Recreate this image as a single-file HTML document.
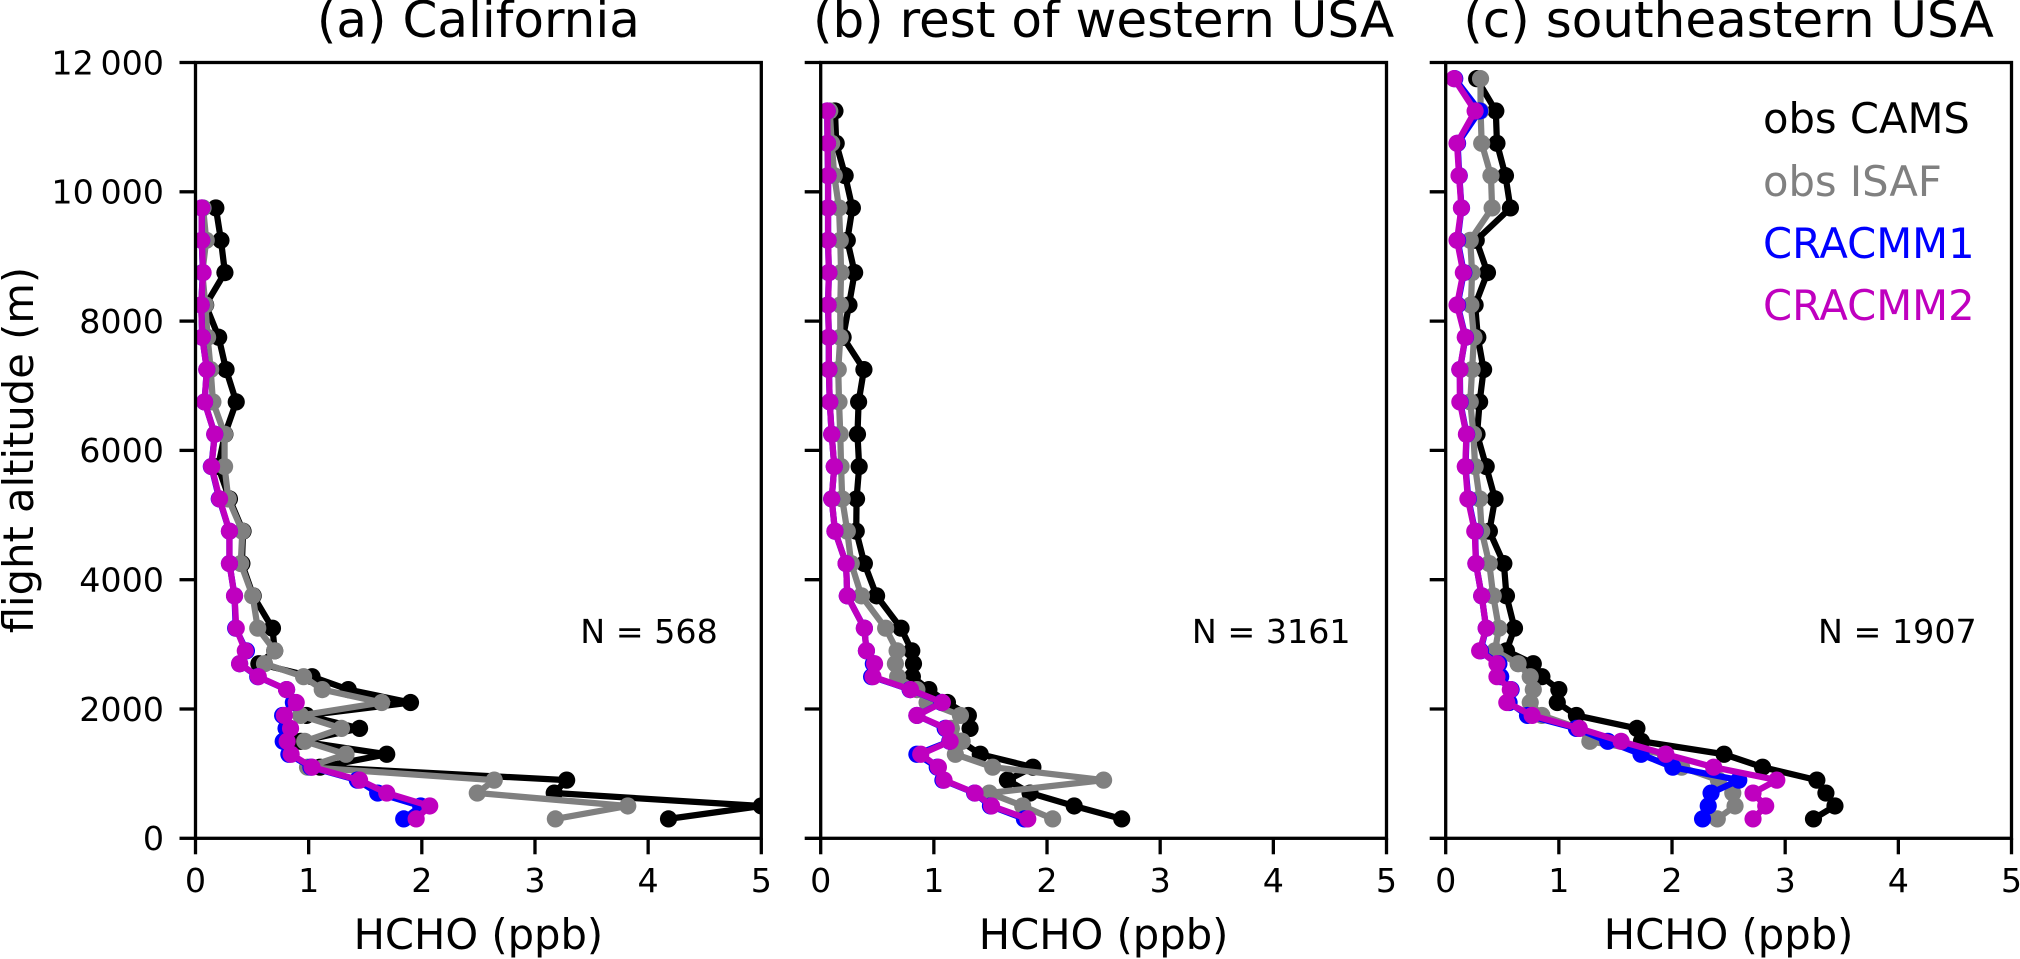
<!DOCTYPE html>
<html lang="en">
<head>
<meta charset="utf-8">
<title>HCHO vertical profiles</title>
<style>
html,body{margin:0;padding:0;background:#fff;}
svg{display:block;}
text{font-family:"DejaVu Sans","Liberation Sans",sans-serif;fill:#000;}
</style>
</head>
<body>
<svg id="chart" xmlns="http://www.w3.org/2000/svg" width="2020" height="959" viewBox="0 0 2020 959"></svg>
<script>
const altitudes = [300,500,700,900,1100,1300,1500,1700,1900,2100,2300,2500,2700,2900,3250,3750,4250,4750,5250,5750,6250,6750,7250,7750,8250,8750,9250,9750,10250,10750,11250,11750];
const xTickLabels = ["0","1","2","3","4","5"];
const xTickValues = [0,1,2,3,4,5];
const yTickValues = [0,2000,4000,6000,8000,10000,12000];
const yTickLabels = ["0","2000","4000","6000","8000","10\u2009000","12\u2009000"];
const panelTitles = ["(a) California","(b) rest of western USA","(c) southeastern USA"];
const sampleCounts = ["N = 568","N = 3161","N = 1907"];
const seriesNames = ["obs CAMS","obs ISAF","CRACMM1","CRACMM2"];

const caCams = [4.18,5.0,3.17,3.28,1.1,1.69,0.93,1.45,0.98,1.9,1.35,1.03,0.56,0.7,0.68,0.51,0.41,0.42,0.3,0.2,0.26,0.36,0.27,0.205,0.09,0.26,0.225,0.18];
const caIsaf = [3.18,3.82,2.49,2.64,0.99,1.33,0.965,1.29,0.93,1.645,1.12,0.955,0.61,0.7,0.55,0.505,0.4,0.414,0.29,0.257,0.257,0.154,0.134,0.107,0.087,0.06,0.095,0.067];
const caCracmm1 = [1.84,1.99,1.61,1.43,1.02,0.825,0.775,0.8,0.77,0.865,0.805,0.55,0.39,0.45,0.355,0.345,0.3,0.3,0.21,0.14,0.17,0.08,0.1,0.06,0.05,0.065,0.055,0.055];
const caCracmm2 = [1.95,2.07,1.69,1.45,1.03,0.845,0.81,0.84,0.785,0.89,0.805,0.555,0.39,0.44,0.36,0.345,0.3,0.3,0.213,0.142,0.17,0.08,0.1,0.06,0.05,0.067,0.055,0.055];

const westCams = [2.66,2.24,1.85,1.65,1.875,1.41,1.24,1.32,1.305,1.12,0.956,0.81,0.82,0.805,0.71,0.494,0.386,0.314,0.317,0.34,0.325,0.335,0.382,0.198,0.25,0.3,0.235,0.28,0.216,0.137,0.126];
const westIsaf = [2.05,1.785,1.49,2.5,1.52,1.19,1.25,1.155,1.235,0.94,0.85,0.68,0.66,0.675,0.574,0.36,0.27,0.235,0.19,0.18,0.173,0.162,0.155,0.173,0.173,0.18,0.173,0.162,0.12,0.097,0.08];
const westCracmm1 = [1.8,1.5,1.36,1.08,1.03,0.85,1.14,1.1,0.85,1.07,0.79,0.45,0.465,0.404,0.386,0.235,0.224,0.126,0.097,0.12,0.097,0.08,0.072,0.072,0.065,0.072,0.065,0.065,0.065,0.06,0.058];
const westCracmm2 = [1.83,1.51,1.364,1.09,1.04,0.884,1.144,1.11,0.85,1.075,0.794,0.462,0.476,0.404,0.386,0.235,0.224,0.126,0.097,0.12,0.097,0.08,0.072,0.072,0.065,0.072,0.065,0.065,0.065,0.06,0.058];

const seCams = [3.25,3.44,3.36,3.28,2.8,2.46,1.73,1.69,1.155,0.986,1.0,0.85,0.774,0.537,0.608,0.537,0.514,0.386,0.436,0.358,0.277,0.3,0.335,0.284,0.26,0.369,0.27,0.572,0.528,0.453,0.443,0.274];
const seIsaf = [2.4,2.557,2.537,2.41,2.085,1.94,1.274,1.18,0.85,0.747,0.774,0.747,0.64,0.436,0.47,0.42,0.385,0.318,0.3,0.26,0.245,0.217,0.233,0.25,0.223,0.233,0.217,0.41,0.4,0.318,0.308,0.308];
const seCracmm1 = [2.27,2.32,2.345,2.59,2.007,1.726,1.432,1.155,0.723,0.56,0.578,0.486,0.47,0.307,0.358,0.318,0.267,0.26,0.2,0.175,0.185,0.128,0.125,0.175,0.105,0.16,0.105,0.14,0.12,0.105,0.3,0.08];
const seCracmm2 = [2.716,2.828,2.716,2.926,2.368,1.946,1.55,1.18,0.764,0.54,0.571,0.453,0.453,0.3,0.358,0.318,0.267,0.257,0.196,0.173,0.183,0.125,0.125,0.173,0.1,0.156,0.1,0.139,0.118,0.1,0.26,0.074];

const panelSeries = [
  [caCams, caIsaf, caCracmm1, caCracmm2],
  [westCams, westIsaf, westCracmm1, westCracmm2],
  [seCams, seIsaf, seCracmm1, seCracmm2]
];
const panelSlugs = ["california","western-usa","southeastern-usa"];

const NS = "http://www.w3.org/2000/svg";
const svg = document.getElementById("chart");
const seriesColors = ["#000000","#808080","#0000ff","#bf00bf"];
const seriesSlugs = ["obs-cams","obs-isaf","cracmm1","cracmm2"];
const axisLefts = [195.5, 820.7, 1445.7];
const plotWidth = 565.8;
const plotTop = 62.5;
const plotBottom = 838.3;
const xMax = 5;
const yMax = 12000;
const noteStarts = [3.4, 3.28, 3.29];

function el(tag, attrs, parent) {
  const node = document.createElementNS(NS, tag);
  for (const k in attrs) node.setAttribute(k, attrs[k]);
  (parent || svg).appendChild(node);
  return node;
}
function yScale(v) { return plotBottom - (v / yMax) * (plotBottom - plotTop); }
function xScale(panel, v) { return axisLefts[panel] + (v / xMax) * plotWidth; }

const defs = el("defs", {});
axisLefts.forEach(function (left, p) {
  const clip = el("clipPath", { id: "clip" + p }, defs);
  el("rect", { x: left, y: plotTop, width: plotWidth, height: plotBottom - plotTop }, clip);
});

axisLefts.forEach(function (left, p) {
  const panel = el("g", {});
  
  

  const title = el("text", { x: left + plotWidth / 2, y: 37, "text-anchor": "middle", "font-size": 50 }, panel);
  title.textContent = panelTitles[p];
  
  

  const marks = el("g", { "clip-path": "url(#clip" + p + ")" }, panel);
  panelSeries[p].forEach(function (values, s) {
    const group = el("g", {}, marks);
    
    
    const pts = values.map(function (v, i) { return xScale(p, v).toFixed(2) + "," + yScale(altitudes[i]).toFixed(2); }).join(" ");
    const line = el("polyline", { points: pts, fill: "none", stroke: seriesColors[s], "stroke-width": 6.25, "stroke-linejoin": "round" }, group);
    
    
    values.forEach(function (v, i) {
      const dot = el("circle", { cx: xScale(p, v).toFixed(2), cy: yScale(altitudes[i]).toFixed(2), r: 8.6, fill: seriesColors[s] }, group);
      
      
    });
  });

  const frame = el("rect", { x: left, y: plotTop, width: plotWidth, height: plotBottom - plotTop, fill: "none", stroke: "#000", "stroke-width": 3.3 }, panel);
  
  

  xTickValues.forEach(function (v, i) {
    const x = xScale(p, v);
    const tick = el("line", { x1: x, x2: x, y1: plotBottom, y2: plotBottom + 16, stroke: "#000", "stroke-width": 3.3 }, panel);
    
    
    const label = el("text", { x: x, y: 892, "text-anchor": "middle", "font-size": 33.3 }, panel);
    label.textContent = xTickLabels[i];
    
    
  });

  yTickValues.forEach(function (v, i) {
    const y = yScale(v);
    const tick = el("line", { x1: left - 16, x2: left, y1: y, y2: y, stroke: "#000", "stroke-width": 3.3 }, panel);
    
    
    if (p === 0) {
      const label = el("text", { x: 164, y: y + 11.8, "text-anchor": "end", "font-size": 33.3 }, panel);
      label.textContent = yTickLabels[i];
      
      
    }
  });

  const xTitle = el("text", { x: left + plotWidth / 2, y: 949, "text-anchor": "middle", "font-size": 41.67 }, panel);
  xTitle.textContent = "HCHO (ppb)";
  
  

  const note = el("text", { x: xScale(p, noteStarts[p]), y: 643, "font-size": 33.3 }, panel);
  note.textContent = sampleCounts[p];
  
  
});

const yTitle = el("text", { x: 33, y: 450, "text-anchor": "middle", "font-size": 41.67, transform: "rotate(-90 33 450)" });
yTitle.textContent = "flight altitude (m)";



const legend = el("g", {});


const legendBaselines = [133, 196, 258, 320];
seriesNames.forEach(function (name, s) {
  const entry = el("text", { x: 1763, y: legendBaselines[s], "font-size": 41.67 }, legend);
  entry.textContent = name;
  entry.style.fill = seriesColors[s];
  
  
});
</script>
</body>
</html>
